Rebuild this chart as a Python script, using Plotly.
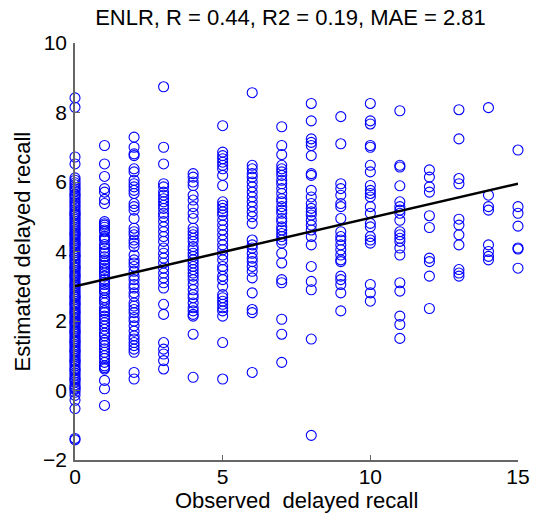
import plotly.graph_objects as go

title_text = "ENLR, R = 0.44, R2 = 0.19, MAE = 2.81"
x_label = "Observed  delayed recall"
y_label = "Estimated delayed recall"
x_ticks = [0, 5, 10, 15]
y_ticks = [-2, 0, 2, 4, 6, 8, 10]

y0 = [8.42, 8.15, 6.72, 6.52, 6.12, 6.05, 5.98, 5.92, 5.85, 5.80, 5.74, 5.66, 5.63, 5.58, 5.52,
      5.45, 5.40, 5.33, 5.28, 5.21, 5.15, 5.10, 5.07, 5.04, 4.98, 4.93, 4.87, 4.81, 4.76, 4.70,
      4.64, 4.59, 4.53, 4.51, 4.47, 4.42, 4.36, 4.31, 4.25, 4.22, 4.19, 4.14, 4.08, 4.02, 3.97,
      3.91, 3.88, 3.86, 3.80, 3.74, 3.69, 3.63, 3.57, 3.55, 3.52, 3.46, 3.41, 3.35, 3.31, 3.29,
      3.24, 3.18, 3.12, 3.07, 3.03, 3.01, 2.96, 2.90, 2.84, 2.79, 2.73, 2.70, 2.67, 2.62, 2.56,
      2.51, 2.48, 2.45, 2.39, 2.34, 2.28, 2.25, 2.22, 2.17, 2.11, 2.06, 2.00, 1.97, 1.94, 1.89,
      1.83, 1.77, 1.72, 1.69, 1.66, 1.61, 1.55, 1.49, 1.44, 1.40, 1.38, 1.32, 1.27, 1.21, 1.16,
      1.13, 1.10, 1.04, 0.99, 0.93, 0.87, 0.85, 0.82, 0.76, 0.70, 0.63, 0.60, 0.57, 0.50, 0.44,
      0.37, 0.33, 0.30, 0.24, 0.16, 0.10, 0.06, 0.03, -0.05, -0.14, -0.28, -0.52, -1.38, -1.42]
y1 = [7.05, 6.52, 6.16, 5.81, 5.71, 5.50, 5.38, 4.86, 4.80, 4.76, 4.70, 4.62, 4.57, 4.43, 4.38,
      4.33, 4.20, 4.10, 4.00, 3.95, 3.85, 3.76, 3.67, 3.60, 3.52, 3.45, 3.38, 3.29, 3.19, 3.12,
      3.05, 2.95, 2.88, 2.81, 2.67, 2.60, 2.52, 2.38, 2.30, 2.24, 2.14, 2.05, 1.95, 1.86, 1.76,
      1.65, 1.57, 1.45, 1.38, 1.29, 1.20, 1.10, 1.00, 0.92, 0.81, 0.71, 0.66, 0.62, 0.29, 0.05,
      -0.43]
y2 = [7.29, 7.00, 6.81, 6.76, 6.38, 6.29, 6.05, 5.95, 5.86, 5.76, 5.67, 5.38, 5.29, 5.19, 4.95,
      4.67, 4.57, 4.48, 4.33, 4.24, 4.14, 3.90, 3.76, 3.67, 3.57, 3.43, 3.29, 3.19, 3.05, 2.95,
      2.81, 2.71, 2.52, 2.43, 2.33, 2.24, 2.10, 2.00, 1.86, 1.71, 1.57, 1.48, 1.38, 1.29, 1.19,
      1.10, 0.52, 0.33]
y3 = [8.74, 7.00, 6.52, 5.95, 5.86, 5.71, 5.62, 5.52, 5.43, 5.33, 5.24, 5.10, 5.00, 4.86, 4.71,
      4.57, 4.43, 4.29, 4.10, 3.95, 3.81, 3.67, 3.52, 3.38, 3.24, 3.10, 2.95, 2.48, 2.19, 1.38,
      1.19, 1.05, 0.86, 0.62]
y4 = [6.24, 6.14, 6.00, 5.90, 5.62, 5.48, 5.29, 5.10, 4.95, 4.67, 4.57, 4.48, 4.38, 4.29, 4.14,
      4.05, 3.95, 3.86, 3.76, 3.67, 3.57, 3.48, 3.38, 3.29, 3.19, 3.05, 2.90, 2.76, 2.67, 2.52,
      2.38, 2.29, 2.19, 2.14, 1.62, 0.38]
y5 = [7.62, 6.86, 6.76, 6.67, 6.57, 6.48, 6.38, 6.19, 5.90, 5.43, 5.33, 5.24, 5.14, 5.05, 4.90,
      4.76, 4.62, 4.48, 4.33, 4.19, 4.05, 3.90, 3.76, 3.57, 3.48, 3.29, 3.19, 3.00, 2.76, 2.67,
      2.57, 2.48, 2.38, 2.29, 2.14, 1.38, 0.33]
y6 = [8.57, 6.48, 6.38, 6.24, 6.14, 6.00, 5.86, 5.71, 5.57, 5.43, 5.29, 5.14, 5.00, 4.81, 4.33,
      4.19, 4.10, 3.95, 3.81, 3.71, 3.57, 3.43, 3.24, 2.81, 2.33, 2.24, 0.52]
y7 = [7.59, 7.05, 6.79, 6.48, 6.38, 6.29, 6.19, 6.05, 5.95, 5.81, 5.67, 5.52, 5.43, 5.29, 5.19,
      5.10, 4.95, 4.86, 4.71, 4.62, 4.52, 4.43, 4.33, 4.24, 3.95, 3.67, 3.19, 3.10, 2.05, 1.62,
      0.81]
y8 = [8.26, 7.76, 7.24, 7.14, 7.05, 6.76, 6.24, 6.19, 5.76, 5.57, 5.38, 5.24, 5.14, 5.05, 4.90,
      4.76, 4.62, 4.43, 4.19, 3.57, 3.14, 2.90, 1.48, -1.29]
y9 = [7.88, 7.10, 5.95, 5.81, 5.62, 5.38, 5.29, 4.95, 4.57, 4.43, 4.33, 4.19, 4.05, 3.90, 3.76,
      3.71, 3.29, 3.19, 3.05, 2.81, 2.29]
y10 = [8.26, 7.76, 7.67, 7.05, 7.00, 6.48, 6.29, 5.90, 5.76, 5.67, 5.57, 5.29, 5.10, 4.81, 4.71,
       4.43, 4.33, 4.24, 3.05, 2.81, 2.57]
y11 = [8.05, 6.48, 6.43, 5.89, 5.43, 5.29, 5.19, 5.10, 4.90, 4.57, 4.48, 4.38, 4.29, 4.10, 3.90,
       3.10, 2.86, 2.14, 1.90, 1.50]
y12 = [6.35, 6.14, 5.86, 5.71, 5.03, 4.69, 3.81, 3.71, 3.29, 2.36]
y13 = [8.08, 7.24, 6.10, 5.95, 4.93, 4.76, 4.48, 4.19, 3.48, 3.38, 3.29]
y14 = [8.14, 5.62, 5.29, 5.19, 4.19, 4.00, 3.86, 3.76]
y15 = [6.92, 5.29, 5.10, 4.73, 4.10, 4.07, 3.52]

columns = [y0, y1, y2, y3, y4, y5, y6, y7, y8, y9, y10, y11, y12, y13, y14, y15]
observed = list(range(16))

fit_x = [0, 15]
fit_y = [3.0, 5.95]

xs, ys = [], []
for xv, col in zip(observed, columns):
    xs.extend([xv] * len(col))
    ys.extend(col)

fig = go.Figure()
fig.add_trace(go.Scatter(
    x=xs, y=ys, mode="markers", cliponaxis=False,
    marker=dict(symbol="circle-open", size=10, color="#0000FF", line=dict(width=1.1, color="#0000FF")),
    showlegend=False))
fig.add_trace(go.Scatter(
    x=fit_x, y=fit_y, mode="lines", cliponaxis=False,
    line=dict(color="black", width=2.5), showlegend=False))

font_family = "Liberation Sans, Arial, sans-serif"
fig.update_layout(
    width=533, height=520,
    margin=dict(l=75, r=15, t=43, b=60, autoexpand=False),
    paper_bgcolor="white", plot_bgcolor="white",
    font=dict(family=font_family, size=20, color="black"),
    title=dict(text=title_text, x=0.545, xanchor="center", y=0.966, yanchor="middle",
               font=dict(size=22, family=font_family, color="black")),
    annotations=[
        dict(text=x_label, xref="paper", yref="paper", x=0.5, y=-0.0961, xanchor="center",
             yanchor="middle", showarrow=False, font=dict(size=22)),
        dict(text=y_label, xref="paper", yref="paper", x=0, xshift=-53, y=0.5, xanchor="center",
             yanchor="middle", textangle=-90, showarrow=False, font=dict(size=22)),
    ],
)
fig.update_xaxes(
    range=[0, 15], tickvals=x_ticks, ticktext=[str(v) for v in x_ticks], automargin=False,
    showgrid=False, zeroline=False, showline=True, linecolor="#666666", linewidth=1.5,
    ticks="inside", ticklen=5, tickcolor="#666666", tickwidth=1, ticklabelstandoff=-3,
    tickfont=dict(size=21))
fig.update_yaxes(
    range=[-2, 10], tickvals=y_ticks, ticktext=[("\u2212" + str(-v)) if v < 0 else str(v) for v in y_ticks],
    automargin=False,
    showgrid=False, zeroline=False, showline=True, linecolor="#666666", linewidth=1.5,
    ticks="inside", ticklen=5, tickcolor="#666666", tickwidth=1, ticklabelstandoff=2,
    tickfont=dict(size=21))

fig.write_html("out.html", post_script="document.body.style.margin='0';",
               config={"displayModeBar": False})
